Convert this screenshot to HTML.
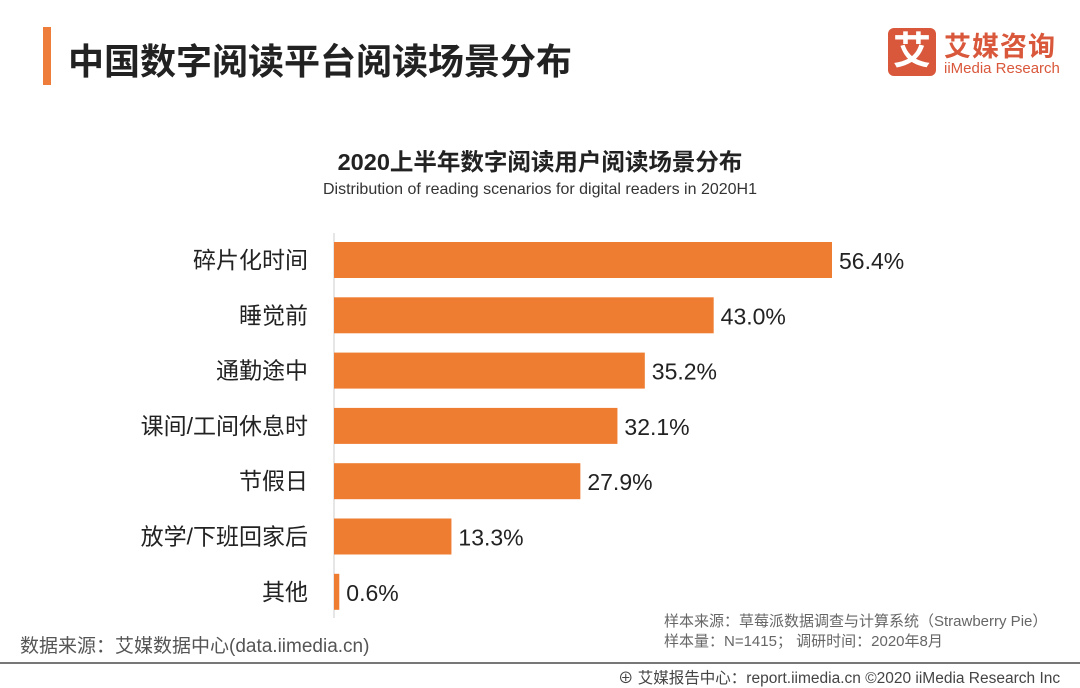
<!DOCTYPE html>
<html><head><meta charset="utf-8"><style>
body{margin:0;width:1080px;height:688px;background:#fff;overflow:hidden;position:relative;font-family:"Liberation Sans","Noto Sans CJK SC",sans-serif}
.abs{position:absolute;white-space:nowrap}
</style></head><body>
<div class="abs" style="left:43px;top:27px;width:8px;height:58px;background:#ee7d3c"></div>
<div class="abs" style="left:68px;top:33px;font-size:36px;font-weight:bold;color:#222">中国数字阅读平台阅读场景分布</div>
<div class="abs" style="left:888px;top:28px;width:48px;height:48px;background:#d9573a;border-radius:6px;color:#fff;font-size:38px;font-weight:bold;text-align:center;line-height:48px">艾</div>
<div class="abs" style="left:944px;top:25px;color:#d9573a;font-size:27px;font-weight:bold;letter-spacing:1px">艾媒咨询</div>
<div class="abs" style="left:944px;top:60px;color:#d9573a;font-size:15px">iiMedia Research</div>
<div class="abs" style="left:0;width:1080px;text-align:center;top:143px;font-size:23.5px;font-weight:bold;color:#222">2020上半年数字阅读用户阅读场景分布</div>
<div class="abs" style="left:0;width:1080px;text-align:center;top:181px;font-size:16px;color:#333">Distribution of reading scenarios for digital readers in 2020H1</div>
<svg class="abs" style="left:0;top:0" width="1080" height="688" id="chart"></svg>
<div class="abs" style="left:664px;top:612px;font-size:15px;color:#666;line-height:20px">样本来源：草莓派数据调查与计算系统（Strawberry Pie）<br>样本量：N=1415； 调研时间：2020年8月</div>
<div class="abs" style="left:20px;top:631px;font-size:19px;color:#555">数据来源：艾媒数据中心(data.iimedia.cn)</div>
<div class="abs" style="left:0;top:662px;width:1080px;height:2px;background:#777"></div>
<div class="abs" style="left:618px;top:666px;font-size:15.5px;color:#444">⊕ 艾媒报告中心：report.iimedia.cn  ©2020  iiMedia Research  Inc</div>
<script>
const categories=["碎片化时间","睡觉前","通勤途中","课间/工间休息时","节假日","放学/下班回家后","其他"];
const values=[56.4,43.0,35.2,32.1,27.9,13.3,0.6];
const labels=["56.4%","43.0%","35.2%","32.1%","27.9%","13.3%","0.6%"];
const svg=document.getElementById('chart');
const NS='http://www.w3.org/2000/svg';
const x0=334, scale=498/56.4, y0=260, step=55.3, bh=36;
const xs=v=>v*scale, ys=i=>y0+i*step;
const ax=document.createElementNS(NS,'line');


ax.setAttribute('x1',x0);ax.setAttribute('x2',x0);ax.setAttribute('y1',233);ax.setAttribute('y2',618);ax.setAttribute('stroke','#ccc');
svg.appendChild(ax);
categories.forEach((c,i)=>{
 const r=document.createElementNS(NS,'rect');
 
 
 r.setAttribute('x',x0);r.setAttribute('y',ys(i)-bh/2);r.setAttribute('width',xs(values[i]));r.setAttribute('height',bh);r.setAttribute('fill','#ee7d32');
 svg.appendChild(r);
 const t=document.createElementNS(NS,'text');
 
 
 t.setAttribute('x',308);t.setAttribute('y',ys(i)+8);t.setAttribute('text-anchor','end');t.setAttribute('font-size','23');t.setAttribute('fill','#222');
 t.textContent=c;svg.appendChild(t);
 const v=document.createElementNS(NS,'text');
 
 
 v.setAttribute('x',x0+xs(values[i])+7);v.setAttribute('y',ys(i)+9);v.setAttribute('font-size','23');v.setAttribute('fill','#222');
 v.textContent=labels[i];svg.appendChild(v);
});
</script>
</body></html>
